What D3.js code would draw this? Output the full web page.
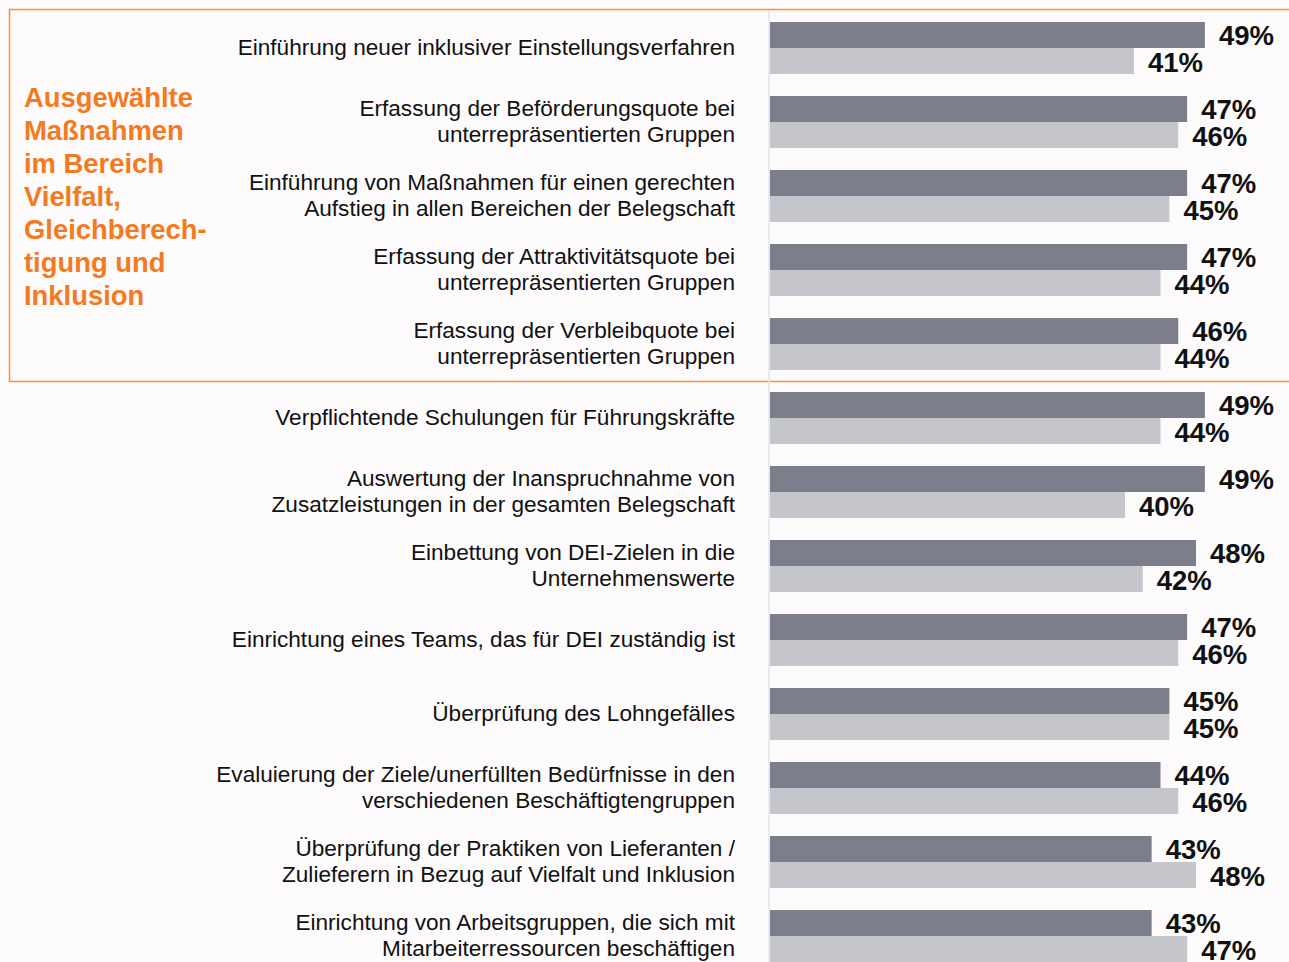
<!DOCTYPE html>
<meta charset="utf-8">
<style>
body { margin: 0; background: #fcfafb; }
svg { display: block; font-family: "Liberation Sans", Arial, sans-serif; }
.cat { font-size: 22.6px; fill: #111; }
.val { font-size: 27.5px; font-weight: bold; fill: #111; }
.title { font-size: 27.4px; font-weight: bold; fill: #f47a22; }
</style>
<svg width="1289" height="962"></svg>
<script src="https://cdn.jsdelivr.net/npm/d3@7"></script>
<script>

var categories = [
  ["Einführung neuer inklusiver Einstellungsverfahren"],
  ["Erfassung der Beförderungsquote bei", "unterrepräsentierten Gruppen"],
  ["Einführung von Maßnahmen für einen gerechten", "Aufstieg in allen Bereichen der Belegschaft"],
  ["Erfassung der Attraktivitätsquote bei", "unterrepräsentierten Gruppen"],
  ["Erfassung der Verbleibquote bei", "unterrepräsentierten Gruppen"],
  ["Verpflichtende Schulungen für Führungskräfte"],
  ["Auswertung der Inanspruchnahme von", "Zusatzleistungen in der gesamten Belegschaft"],
  ["Einbettung von DEI-Zielen in die", "Unternehmenswerte"],
  ["Einrichtung eines Teams, das für DEI zuständig ist"],
  ["Überprüfung des Lohngefälles"],
  ["Evaluierung der Ziele/unerfüllten Bedürfnisse in den", "verschiedenen Beschäftigtengruppen"],
  ["Überprüfung der Praktiken von Lieferanten /", "Zulieferern in Bezug auf Vielfalt und Inklusion"],
  ["Einrichtung von Arbeitsgruppen, die sich mit", "Mitarbeiterressourcen beschäftigen"]
];
var seriesDark  = [49, 47, 47, 47, 46, 49, 49, 48, 47, 45, 44, 43, 43];
var seriesLight = [41, 46, 45, 44, 44, 44, 40, 42, 46, 45, 46, 48, 47];
var titleLines = ["Ausgewählte", "Maßnahmen", "im Bereich", "Vielfalt,", "Gleichberech-", "tigung und", "Inklusion"];

var svg = d3.select("svg");

var x = d3.scaleLinear().domain([0, 10]).range([770, 858.75]);
var y = d3.scaleBand()
    .domain(d3.range(categories.length))
    .range([22, 22 + 74 * categories.length - 22])
    .paddingInner(22 / 74).paddingOuter(0).align(0);
var bh = y.bandwidth() / 2;

// orange highlight box
svg.append("rect")
    .attr("x", 9.5).attr("y", 9.5)
    .attr("width", 1300).attr("height", 372)
    .attr("fill", "none").attr("stroke", "#f2913f").attr("stroke-width", 1.5);

// light axis line
svg.append("line")
    .attr("x1", 769).attr("x2", 769).attr("y1", 10).attr("y2", 962)
    .attr("stroke", "#e2e6ea").attr("stroke-width", 1.5);

var g = svg.selectAll("g.row").data(categories).enter().append("g")
    .attr("class", "row")
    .attr("transform", function(d, i) { return "translate(0," + y(i) + ")"; });

g.append("rect")
    .attr("x", x(0)).attr("y", 0).attr("height", bh)
    .attr("width", function(d, i) { return x(seriesDark[i]) - x(0); })
    .attr("fill", "#7c7f8b");
g.append("rect")
    .attr("x", x(0)).attr("y", bh).attr("height", bh)
    .attr("width", function(d, i) { return x(seriesLight[i]) - x(0); })
    .attr("fill", "#c5c6cb");

g.append("text").attr("class", "val")
    .attr("x", function(d, i) { return x(seriesDark[i]) + 14; })
    .attr("y", bh / 2 + 10)
    .text(function(d, i) { return seriesDark[i] + "%"; });
g.append("text").attr("class", "val")
    .attr("x", function(d, i) { return x(seriesLight[i]) + 14; })
    .attr("y", bh * 1.5 + 11)
    .text(function(d, i) { return seriesLight[i] + "%"; });

g.each(function(d) {
  var t = d3.select(this).append("text").attr("class", "cat")
      .attr("text-anchor", "end");
  var start = bh - (d.length - 1) * 13 + 7;
  d.forEach(function(line, k) {
    t.append("tspan").attr("x", 735).attr("y", start + k * 26).text(line);
  });
});

svg.append("text").attr("class", "title")
  .selectAll("tspan").data(titleLines).enter().append("tspan")
    .attr("x", 24)
    .attr("y", function(d, i) { return 107 + i * 33; })
    .text(function(d) { return d; });

</script>
